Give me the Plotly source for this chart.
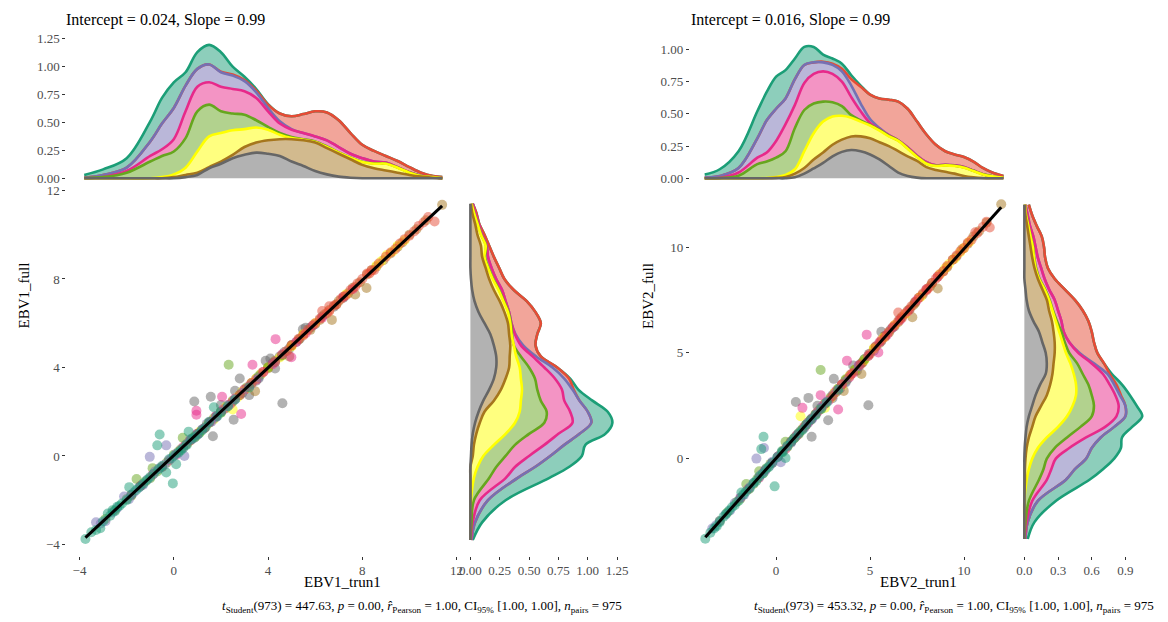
import plotly.graph_objects as go
import numpy as np

FONT = "Liberation Serif"
W, H = 1168, 622

# ggplot level order (draw order of outlines); stacking bottom->top is reversed
GROUPS = ["teal", "orange", "purple", "pink", "green", "yellow", "brown", "gray"]
STACK = ["gray", "brown", "yellow", "green", "pink", "purple", "orange", "teal"]
LINE_COL = {"teal": "#1B9E77", "orange": "#E64B35", "purple": "#7570B3", "pink": "#E7298A",
            "green": "#66A61E", "yellow": "#FFFF00", "brown": "#A6761D", "gray": "#666666"}

# ---------------- Panel 1 : EBV1 ----------------
P1_TITLE = "Intercept = 0.024, Slope = 0.99"
P1_INTERCEPT, P1_SLOPE = 0.024, 0.99
P1_XLAB, P1_YLAB = "EBV1_trun1", "EBV1_full"
P1_CAPTION = ("<i>t</i><sub>Student</sub>(973) = 447.63, <i>p</i> = 0.00, "
              "<i>r\u0302</i><sub>Pearson</sub> = 1.00, CI<sub>95%</sub> [1.00, 1.00], "
              "<i>n</i><sub>pairs</sub> = 975")
P1_TICKS = [-4, 0, 4, 8, 12]

p1_points = {
    "teal": [(-3.75, -3.75), (-3.12, -3.27), (-2.8, -2.6), (-2.6, -2.45), (-2.4, -2.3), (-2.2, -2.15),
             (-1.89, -1.41), (-1.6, -1.55), (-1.3, -1.25), (-1.0, -0.95), (-0.7, 0.48), (-0.6, 0.97),
             (-0.5, -0.45), (-0.32, -0.75), (-0.04, -1.24), (0.1, -0.37), (0.2, 0.15), (0.4, 0.35),
             (0.63, 1.1), (0.9, 0.85), (1.2, 1.15), (1.5, 1.55), (1.7, 2.2), (2.0, 1.95), (2.6, 2.55),
             (3.2, 3.1), (-3.5, -3.45), (-3.3, -3.35), (-3.0, -2.95), (-2.7, -2.7), (-2.5, -2.5),
             (-2.3, -2.25), (-2.0, -2.0), (-1.8, -1.75), (-1.45, -1.4), (-1.15, -1.1), (-0.85, -0.8),
             (-0.65, -0.6), (-0.2, -0.15), (0.0, 0.0), (0.3, 0.25), (0.55, 0.5), (0.75, 0.75),
             (1.05, 1.0), (1.35, 1.3), (1.85, 1.8), (2.3, 2.25)],
    "purple": [(-3.3, -3.0), (-2.9, -2.95), (-2.11, -1.83), (-1.9, -1.95), (-1.5, -1.45), (-1.02, -0.04),
               (-0.8, -0.7), (-0.32, 0.48), (-0.1, -0.1), (0.45, 0.0), (0.7, 0.75), (1.0, 0.95),
               (1.4, 1.45), (1.8, 1.75), (2.3, 2.25), (2.9, 2.85), (3.6, 3.55), (4.3, 4.25),
               (-3.1, -3.05), (-2.6, -2.55), (-2.4, -2.35), (-1.7, -1.65), (-1.3, -1.3), (-1.1, -1.05),
               (-0.6, -0.55), (-0.4, -0.4), (0.1, 0.1), (0.3, 0.3), (0.55, 0.55), (0.85, 0.8),
               (1.2, 1.2), (1.6, 1.55), (2.0, 2.0), (2.6, 2.55), (3.3, 3.25)],
    "pink": [(-1.8, -1.75), (-0.9, -0.85), (-0.2, -0.2), (0.4, 0.4), (0.96, 2.04), (0.96, 1.86),
             (1.3, 1.25), (1.8, 1.8), (2.05, 2.68), (2.4, 2.35), (2.86, 1.9), (3.0, 3.0), (3.34, 4.12),
             (3.5, 3.45), (4.32, 5.28), (4.99, 4.46), (5.6, 5.55), (6.3, 6.25), (7.2, 7.2), (8.3, 8.25),
             (-1.4, -1.35), (-0.5, -0.5), (0.1, 0.05), (0.7, 0.7), (1.0, 1.0), (1.55, 1.55), (2.1, 2.1),
             (2.6, 2.6), (3.2, 3.15), (3.8, 3.8), (4.2, 4.15), (4.6, 4.6), (5.2, 5.15), (5.9, 5.9),
             (6.6, 6.55), (7.6, 7.55)],
    "green": [(-2.9, -2.85), (-2.0, -1.95), (-1.58, -1.04), (-1.2, -1.15), (-0.9, -0.55), (-0.5, -0.5),
              (0.0, 0.05), (0.38, 0.82), (0.7, 0.7), (1.1, 1.05), (1.5, 1.5), (2.33, 4.12), (2.0, 2.0),
              (2.8, 2.75), (3.6, 3.6), (4.6, 4.55), (-2.5, -2.45), (-1.8, -1.8), (-1.4, -1.35),
              (-1.0, -1.0), (-0.7, -0.7), (-0.3, -0.3), (0.2, 0.2), (0.5, 0.5), (0.9, 0.9), (1.3, 1.25),
              (1.7, 1.7), (2.2, 2.15), (2.5, 2.45), (3.1, 3.1), (4.0, 4.0)],
    "yellow": [(0.3, 0.3), (0.9, 0.85), (1.4, 1.4), (2.0, 1.95), (2.5, 2.1), (2.7, 2.65), (3.1, 3.05),
               (3.7, 3.7), (4.5, 4.45), (5.5, 5.5), (6.6, 6.55), (8.6, 8.6), (9.04, 9.08), (9.3, 9.25),
               (0.6, 0.6), (1.1, 1.1), (1.7, 1.65), (2.2, 2.2), (2.9, 2.9), (3.3, 3.3), (3.5, 3.5),
               (4.0, 4.0), (5.0, 4.95), (6.0, 6.0), (7.3, 7.3), (8.3, 8.25), (8.8, 8.8), (9.5, 9.5),
               (9.8, 9.75)],
    "brown": [(0.8, 0.8), (2.0, 2.0), (3.0, 3.0), (3.45, 2.93), (4.0, 3.95), (4.6, 4.55), (4.9, 4.5),
              (5.3, 5.25), (5.8, 5.7), (6.2, 6.15), (6.71, 6.15), (7.0, 7.0), (7.4, 7.35), (7.7, 7.3),
              (8.18, 7.59), (8.6, 8.55), (9.2, 9.15), (9.7, 9.65), (10.3, 10.25), (11.39, 11.35),
              (1.5, 1.5), (2.5, 2.5), (3.5, 3.5), (4.3, 4.3), (5.0, 5.0), (5.5, 5.5), (5.9, 5.9),
              (6.4, 6.4), (6.6, 6.6), (6.9, 6.85), (7.2, 7.2), (7.6, 7.6), (7.9, 7.85), (8.2, 8.2),
              (8.4, 8.4), (8.9, 8.85), (9.5, 9.45), (10.0, 10.0), (10.7, 10.65)],
    "gray": [(0.87, 2.46), (1.2, 1.2), (1.57, 2.68), (1.66, 0.89), (2.0, 2.3), (2.54, 1.64), (2.8, 3.5),
             (2.6, 2.95), (3.2, 2.75), (3.6, 3.5), (3.9, 4.3), (4.1, 4.4), (4.3, 3.95), (4.61, 2.38),
             (4.9, 4.85), (5.2, 5.15), (5.48, 5.73), (5.6, 5.8), (6.0, 5.95), (6.8, 6.75),
             (1.0, 1.0), (1.8, 1.8), (2.3, 2.3), (2.9, 2.85), (3.3, 3.3), (3.5, 3.4), (3.7, 3.7),
             (4.0, 4.0), (4.2, 4.2), (4.5, 4.5), (4.7, 4.7), (5.0, 5.0), (5.35, 5.3), (5.8, 5.8),
             (6.3, 6.3), (7.2, 7.15)],
    "orange": [(2.8, 2.75), (3.8, 3.8), (4.8, 4.75), (5.5, 5.45), (6.0, 6.0), (6.3, 6.55), (6.6, 6.77),
               (6.9, 6.85), (7.3, 7.25), (7.8, 7.8), (8.2, 8.25), (8.5, 8.4), (9.0, 9.0), (9.6, 9.6),
               (10.0, 9.95), (10.4, 10.4), (10.6, 10.55), (11.07, 10.6), (3.3, 3.3), (4.3, 4.25),
               (5.0, 5.0), (5.3, 5.3), (5.7, 5.7), (6.2, 6.2), (6.5, 6.45), (6.8, 6.8), (7.1, 7.1),
               (7.5, 7.5), (7.7, 7.65), (8.0, 8.0), (8.4, 8.4), (8.7, 8.7), (9.2, 9.2), (9.4, 9.35),
               (9.8, 9.8), (10.2, 10.15), (10.8, 10.8)],
}

p1_top_grid = [-3.8, -3, -2, -1, -0.5, 0, 0.5, 1, 1.5, 2, 2.5, 3, 3.5, 4, 4.5, 5, 5.5, 6, 6.5, 7,
               7.5, 8, 8.5, 9, 9.5, 10, 10.5, 11, 11.4]
p1_top_dens = {
    "gray":   [0, 0, 0, 0, 0, 0, 0.01, 0.03, 0.09, 0.13, 0.18, 0.21, 0.23, 0.22, 0.20, 0.15, 0.11, 0.065, 0.035, 0.015, 0.005, 0, 0, 0, 0, 0, 0, 0, 0],
    "brown":  [0, 0, 0, 0, 0, 0.01, 0.02, 0.02, 0.01, 0.02, 0.03, 0.07, 0.09, 0.12, 0.15, 0.20, 0.23, 0.255, 0.235, 0.205, 0.165, 0.12, 0.09, 0.07, 0.05, 0.03, 0.015, 0.005, 0],
    "yellow": [0, 0, 0, 0, 0.01, 0.025, 0.065, 0.19, 0.275, 0.255, 0.22, 0.16, 0.135, 0.095, 0.04, 0.01, 0.005, 0.005, 0.01, 0.01, 0.015, 0.025, 0.04, 0.06, 0.045, 0.02, 0.005, 0.005, 0],
    "green":  [0.002, 0.01, 0.05, 0.15, 0.19, 0.205, 0.265, 0.36, 0.285, 0.195, 0.15, 0.13, 0.065, 0.025, 0.015, 0.01, 0.005, 0.005, 0.005, 0.002, 0.002, 0.002, 0.002, 0.002, 0.002, 0.002, 0.001, 0, 0],
    "pink":   [0.001, 0.002, 0.015, 0.05, 0.06, 0.11, 0.24, 0.22, 0.2, 0.22, 0.22, 0.21, 0.2, 0.14, 0.085, 0.065, 0.055, 0.045, 0.055, 0.048, 0.033, 0.033, 0.018, 0.008, 0.003, 0.002, 0.001, 0, 0],
    "purple": [0.002, 0.018, 0.03, 0.13, 0.23, 0.28, 0.23, 0.16, 0.16, 0.13, 0.12, 0.09, 0.05, 0.03, 0.02, 0.005, 0, 0, 0, 0, 0, 0, 0, 0, 0, 0, 0, 0, 0],
    "orange": [0, 0, 0, 0, 0, 0, 0, 0, 0, 0.005, 0.01, 0.01, 0.015, 0.03, 0.07, 0.115, 0.17, 0.225, 0.25, 0.24, 0.185, 0.12, 0.095, 0.06, 0.055, 0.046, 0.028, 0.01, 0.012],
    "teal":   [0.025, 0.05, 0.085, 0.18, 0.23, 0.23, 0.12, 0.15, 0.175, 0.175, 0.07, 0.03, 0.015, 0.005, 0, 0, 0, 0, 0, 0, 0, 0, 0, 0, 0, 0, 0, 0, 0],
}

p1_right_grid = [-3.8, -3, -2, -1, -0.5, 0, 0.5, 1, 1.5, 2, 2.5, 3, 3.5, 4, 4.5, 5, 5.5, 6, 6.5, 7,
                 7.5, 8, 8.5, 9, 9.5, 10, 10.5, 11, 11.4]
p1_right_dens = {
    "gray":   [0, 0, 0, 0, 0, 0.005, 0.01, 0.02, 0.04, 0.07, 0.11, 0.16, 0.2, 0.22, 0.22, 0.2, 0.17, 0.12, 0.07, 0.035, 0.015, 0.005, 0, 0, 0, 0, 0, 0, 0],
    "brown":  [0, 0, 0, 0, 0, 0.015, 0.02, 0.03, 0.04, 0.05, 0.09, 0.1, 0.1, 0.11, 0.115, 0.14, 0.16, 0.2, 0.22, 0.215, 0.185, 0.155, 0.13, 0.1, 0.09, 0.06, 0.04, 0.015, 0.005],
    "yellow": [0, 0, 0.005, 0.03, 0.06, 0.09, 0.17, 0.25, 0.3, 0.3, 0.23, 0.18, 0.13, 0.09, 0.055, 0.03, 0.02, 0.02, 0.03, 0.03, 0.04, 0.03, 0.02, 0.02, 0.04, 0.03, 0.02, 0.015, 0.005],
    "green":  [0, 0.01, 0.025, 0.13, 0.16, 0.19, 0.18, 0.2, 0.25, 0.23, 0.17, 0.13, 0.12, 0.08, 0.04, 0, 0.005, 0.005, 0.005, 0.005, 0.005, 0.005, 0.005, 0.005, 0.003, 0.002, 0.002, 0.001, 0],
    "pink":   [0.005, 0.01, 0.05, 0.14, 0.16, 0.2, 0.25, 0.25, 0.24, 0.2, 0.2, 0.21, 0.17, 0.13, 0.1, 0.06, 0.025, 0.005, 0.005, 0.015, 0.025, 0.025, 0.025, 0.025, 0.007, 0.008, 0.008, 0.009, 0.01],
    "purple": [0.005, 0.02, 0.07, 0.1, 0.17, 0.18, 0.17, 0.18, 0.16, 0.15, 0.13, 0.09, 0.08, 0.07, 0.03, 0.02, 0.005, 0, 0, 0, 0, 0, 0, 0, 0, 0, 0, 0, 0],
    "orange": [0, 0, 0, 0, 0, 0, 0, 0, 0, 0, 0, 0.01, 0.04, 0.04, 0.04, 0.105, 0.185, 0.25, 0.225, 0.18, 0.1, 0.07, 0.065, 0.05, 0.02, 0.02, 0.005, 0.01, 0],
    "teal":   [0.01, 0.06, 0.15, 0.27, 0.29, 0.27, 0.18, 0.22, 0.18, 0.17, 0.11, 0.04, 0.01, 0, 0, 0, 0, 0, 0, 0, 0, 0, 0, 0, 0, 0, 0, 0, 0],
}

# ---------------- Panel 2 : EBV2 ----------------
P2_TITLE = "Intercept = 0.016, Slope = 0.99"
P2_INTERCEPT, P2_SLOPE = 0.016, 0.99
P2_XLAB, P2_YLAB = "EBV2_trun1", "EBV2_full"
P2_CAPTION = ("<i>t</i><sub>Student</sub>(973) = 453.32, <i>p</i> = 0.00, "
              "<i>r\u0302</i><sub>Pearson</sub> = 1.00, CI<sub>95%</sub> [1.00, 1.00], "
              "<i>n</i><sub>pairs</sub> = 975")
P2_TICKS = [0, 5, 10]

p2_points = {
    "teal": [(-3.77, -3.79), (-3.16, -3.2), (-2.8, -2.75), (-2.5, -2.45), (-2.2, -2.2), (-1.85, -1.6),
             (-1.6, -1.55), (-1.2, -1.15), (-0.9, -0.85), (-0.79, 0.45), (-0.67, 1.03), (-0.4, -0.4),
             (-0.08, -1.31), (0.5, 0.03), (0.3, 0.35), (0.8, 0.8), (1.2, 1.2), (1.6, 1.6), (2.1, 2.05),
             (2.7, 2.65), (3.3, 3.25), (-3.5, -3.5), (-3.3, -3.3), (-3.0, -3.0), (-2.65, -2.6),
             (-2.35, -2.3), (-2.0, -2.0), (-1.75, -1.7), (-1.4, -1.4), (-1.05, -1.05), (-0.7, -0.7),
             (-0.55, -0.5), (-0.2, -0.2), (0.05, 0.05), (0.35, 0.3), (0.6, 0.6), (0.95, 0.95),
             (1.4, 1.35), (1.85, 1.85), (2.4, 2.35)],
    "purple": [(-3.4, -3.3), (-3.0, -2.95), (-2.2, -2.1), (-1.7, -1.7), (-1.05, 0.0), (-0.65, 0.5),
               (-0.8, -0.75), (-0.2, -0.15), (0.25, -0.17), (0.6, 0.6), (1.0, 1.0), (1.5, 1.45),
               (1.9, 1.85), (2.4, 2.4), (3.0, 3.0), (3.7, 3.65), (4.4, 4.35), (-3.2, -3.15),
               (-2.7, -2.65), (-2.45, -2.45), (-1.9, -1.85), (-1.4, -1.35), (-1.2, -1.15), (-0.6, -0.6),
               (-0.35, -0.35), (0.1, 0.1), (0.35, 0.35), (0.8, 0.75), (1.2, 1.2), (1.7, 1.7),
               (2.1, 2.1), (2.7, 2.7), (3.4, 3.35)],
    "pink": [(-1.9, -1.85), (-0.9, -0.9), (-0.2, -0.2), (0.5, 0.45), (1.4, 2.4), (1.5, 1.5), (1.9, 1.9),
             (2.37, 3.0), (2.5, 2.5), (3.3, 2.32), (3.2, 3.2), (3.77, 4.63), (3.9, 3.85), (4.82, 5.86),
             (5.44, 5.02), (5.9, 5.85), (6.6, 6.55), (7.5, 7.5), (8.6, 8.6), (-1.5, -1.45),
             (-0.6, -0.55), (0.1, 0.1), (0.8, 0.8), (1.1, 1.1), (1.7, 1.7), (2.2, 2.2), (2.8, 2.75),
             (3.5, 3.5), (4.1, 4.05), (4.4, 4.4), (4.9, 4.85), (5.5, 5.5), (6.2, 6.2), (7.0, 6.95),
             (8.0, 8.0)],
    "green": [(-3.0, -2.95), (-2.1, -2.05), (-1.59, -1.2), (-1.2, -1.2), (-0.9, -0.6), (-0.5, -0.45),
              (0.1, 0.1), (0.5, 0.8), (0.8, 0.8), (1.2, 1.15), (1.6, 1.6), (2.37, 4.19), (2.1, 2.1),
              (2.9, 2.9), (3.7, 3.75), (4.7, 4.7), (-2.6, -2.55), (-1.9, -1.9), (-1.45, -1.45),
              (-1.0, -0.95), (-0.7, -0.7), (-0.3, -0.25), (0.3, 0.3), (0.6, 0.55), (1.0, 1.0),
              (1.4, 1.4), (1.8, 1.8), (2.3, 2.3), (2.6, 2.6), (3.3, 3.3), (4.2, 4.2)],
    "yellow": [(0.4, 0.4), (1.0, 1.0), (1.3, 2.0), (1.5, 1.5), (2.1, 2.1), (2.6, 2.4), (2.9, 2.85),
               (3.3, 3.3), (3.9, 3.9), (4.7, 4.65), (5.7, 5.7), (6.9, 6.85), (9.0, 9.0), (9.5, 9.45),
               (9.8, 9.75), (0.7, 0.7), (1.2, 1.2), (1.8, 1.8), (2.4, 2.35), (3.1, 3.1), (3.5, 3.45),
               (3.7, 3.7), (4.2, 4.2), (5.2, 5.2), (6.3, 6.3), (7.7, 7.65), (8.7, 8.7), (9.2, 9.2),
               (10.0, 9.95), (10.3, 10.25)],
    "brown": [(0.9, 0.9), (2.1, 2.1), (3.1, 3.1), (3.6, 3.2), (4.54, 4.0), (4.2, 4.15), (4.9, 4.85),
              (5.5, 5.45), (6.0, 5.95), (6.5, 6.45), (7.25, 6.68), (7.4, 7.35), (7.8, 7.75), (8.2, 8.15),
              (8.6, 8.04), (9.1, 9.05), (9.6, 9.55), (10.2, 10.15), (10.8, 10.75), (11.98, 12.02),
              (1.6, 1.6), (2.6, 2.6), (3.7, 3.7), (4.6, 4.55), (5.2, 5.2), (5.8, 5.8), (6.2, 6.2),
              (6.7, 6.7), (7.0, 7.0), (7.3, 7.25), (7.6, 7.6), (8.0, 8.0), (8.3, 8.3), (8.6, 8.6),
              (8.9, 8.85), (9.4, 9.4), (9.9, 9.9), (10.5, 10.5), (11.2, 11.15)],
    "gray": [(1.05, 2.68), (1.3, 1.3), (1.72, 2.87), (1.89, 1.03), (2.77, 1.81), (2.2, 2.5), (3.07, 3.77),
             (3.0, 2.85), (3.4, 3.3), (3.8, 3.75), (4.1, 4.4), (4.3, 4.15), (4.6, 4.55), (4.91, 2.52),
             (5.2, 5.1), (5.6, 6.0), (5.8, 5.8), (6.3, 6.25), (7.1, 7.05), (1.1, 1.1), (1.9, 1.9),
             (2.4, 2.4), (3.2, 3.15), (3.5, 3.5), (3.7, 3.6), (3.95, 3.95), (4.2, 4.2), (4.45, 4.45),
             (4.7, 4.7), (4.95, 4.95), (5.3, 5.3), (5.6, 5.55), (6.1, 6.1), (6.6, 6.6), (7.4, 7.4)],
    "orange": [(3.0, 2.95), (4.0, 4.0), (5.0, 4.95), (5.8, 5.75), (6.3, 6.3), (6.5, 6.9), (6.7, 6.65),
               (7.1, 7.05), (7.6, 7.6), (8.1, 8.05), (8.5, 8.5), (8.9, 8.85), (9.4, 9.4), (10.0, 9.95),
               (10.4, 10.35), (10.6, 10.7), (11.0, 10.95), (11.37, 10.92), (3.5, 3.5), (4.5, 4.45),
               (5.3, 5.3), (5.6, 5.6), (6.0, 6.0), (6.5, 6.5), (6.85, 6.85), (7.2, 7.2), (7.4, 7.4),
               (7.8, 7.8), (8.0, 7.95), (8.3, 8.3), (8.7, 8.7), (9.1, 9.1), (9.6, 9.6), (9.8, 9.8),
               (10.2, 10.2), (10.7, 10.65), (11.2, 11.2)],
}

p2_top_grid = [-3.8, -3, -2, -1, -0.5, 0, 0.5, 1, 1.5, 2, 2.5, 3, 3.5, 4, 4.5, 5, 5.5, 6, 6.5, 7,
               7.5, 8, 8.5, 9, 9.5, 10, 10.5, 11, 11.5, 12.1]
p2_top_dens = {
    "gray":   [0, 0, 0, 0, 0, 0, 0, 0.008, 0.036, 0.077, 0.12, 0.17, 0.205, 0.22, 0.21, 0.185, 0.146, 0.095, 0.044, 0.018, 0.005, 0, 0, 0, 0, 0, 0, 0, 0, 0],
    "brown":  [0, 0, 0, 0, 0, 0.003, 0.01, 0.028, 0.044, 0.069, 0.08, 0.09, 0.095, 0.105, 0.115, 0.125, 0.134, 0.155, 0.166, 0.152, 0.13, 0.087, 0.064, 0.05, 0.036, 0.018, 0.008, 0.002, 0, 0],
    "yellow": [0, 0, 0, 0, 0.002, 0.007, 0.015, 0.034, 0.13, 0.204, 0.24, 0.22, 0.185, 0.145, 0.115, 0.1, 0.09, 0.075, 0.08, 0.06, 0.03, 0.026, 0.031, 0.05, 0.059, 0.064, 0.048, 0.028, 0.015, 0.004],
    "green":  [0, 0.002, 0.02, 0.11, 0.128, 0.15, 0.185, 0.32, 0.32, 0.23, 0.155, 0.11, 0.075, 0.02, 0.01, 0.005, 0.005, 0.005, 0.003, 0.003, 0.003, 0.002, 0.002, 0.002, 0.002, 0.002, 0.002, 0.001, 0.001, 0],
    "pink":   [0, 0.001, 0.025, 0.05, 0.07, 0.13, 0.21, 0.18, 0.21, 0.23, 0.235, 0.22, 0.19, 0.14, 0.07, 0.015, 0.005, 0.005, 0.002, 0.007, 0.007, 0.01, 0.003, 0.003, 0.003, 0.003, 0.002, 0.001, 0, 0],
    "purple": [0.005, 0.015, 0.035, 0.15, 0.25, 0.25, 0.2, 0.2, 0.14, 0.09, 0.07, 0.07, 0.08, 0.09, 0.06, 0.03, 0.01, 0, 0, 0, 0, 0, 0, 0, 0, 0, 0, 0, 0, 0],
    "orange": [0, 0, 0, 0, 0, 0, 0, 0, 0, 0, 0.005, 0.01, 0.02, 0.05, 0.13, 0.19, 0.23, 0.275, 0.3, 0.3, 0.265, 0.215, 0.16, 0.105, 0.085, 0.078, 0.07, 0.048, 0.029, 0.014],
    "teal":   [0.025, 0.052, 0.13, 0.21, 0.22, 0.25, 0.22, 0.16, 0.14, 0.12, 0.055, 0.04, 0.04, 0.03, 0.01, 0, 0, 0, 0, 0, 0, 0, 0, 0, 0, 0, 0, 0, 0, 0],
}

p2_right_grid = [-3.8, -3, -2, -1, -0.5, 0, 0.5, 1, 1.5, 2, 2.5, 3, 3.5, 4, 4.5, 5, 5.5, 6, 6.5, 7,
                 7.5, 8, 8.5, 9, 9.5, 10, 10.5, 11, 11.5, 12]
p2_right_dens = {
    "gray":   [0, 0, 0, 0, 0, 0, 0.003, 0.01, 0.02, 0.04, 0.07, 0.1, 0.14, 0.19, 0.2, 0.19, 0.16, 0.13, 0.08, 0.04, 0.02, 0.01, 0, 0, 0, 0, 0, 0, 0, 0],
    "brown":  [0, 0, 0, 0.005, 0.005, 0.01, 0.017, 0.03, 0.05, 0.06, 0.08, 0.1, 0.09, 0.06, 0.06, 0.08, 0.11, 0.13, 0.165, 0.18, 0.18, 0.15, 0.12, 0.09, 0.07, 0.055, 0.04, 0.025, 0.01, 0.003],
    "yellow": [0, 0, 0, 0.015, 0.035, 0.06, 0.1, 0.16, 0.23, 0.28, 0.28, 0.26, 0.23, 0.19, 0.15, 0.1, 0.07, 0.05, 0.035, 0.03, 0.02, 0.02, 0.01, 0.01, 0.015, 0.02, 0.015, 0.01, 0.005, 0.002],
    "green":  [0, 0.01, 0.04, 0.11, 0.13, 0.13, 0.15, 0.18, 0.2, 0.22, 0.19, 0.14, 0.11, 0.08, 0.06, 0.03, 0.02, 0.02, 0.01, 0.005, 0.005, 0.005, 0.005, 0.005, 0.003, 0.003, 0.002, 0.001, 0.001, 0],
    "pink":   [0.005, 0.01, 0.03, 0.07, 0.07, 0.08, 0.13, 0.17, 0.22, 0.22, 0.22, 0.21, 0.19, 0.18, 0.13, 0.08, 0.04, 0.02, 0.04, 0.045, 0.045, 0.035, 0.045, 0.045, 0.032, 0.022, 0.023, 0.014, 0.014, 0.005],
    "purple": [0.005, 0.01, 0.05, 0.17, 0.21, 0.27, 0.2, 0.13, 0.08, 0.08, 0.06, 0.04, 0.04, 0.04, 0.02, 0.01, 0, 0, 0, 0, 0, 0, 0, 0, 0, 0, 0, 0, 0, 0],
    "orange": [0, 0, 0, 0, 0, 0, 0, 0, 0, 0, 0, 0.01, 0.02, 0.02, 0.09, 0.16, 0.22, 0.25, 0.24, 0.22, 0.18, 0.14, 0.09, 0.06, 0.065, 0.075, 0.075, 0.06, 0.04, 0.03],
    "teal":   [0.02, 0.06, 0.16, 0.21, 0.25, 0.25, 0.26, 0.19, 0.16, 0.15, 0.1, 0.08, 0.05, 0.02, 0, 0, 0, 0, 0, 0, 0, 0, 0, 0, 0, 0, 0, 0, 0, 0],
}


def rgba(hexcol, a):
    h = hexcol.lstrip("#")
    return "rgba(%d,%d,%d,%.2f)" % (int(h[0:2], 16), int(h[2:4], 16), int(h[4:6], 16), a)


fig = go.Figure()


def add_scatter(points, intercept, slope, xa, ya):
    for g in STACK:
        pts = points[g]
        fig.add_trace(go.Scatter(x=[p[0] for p in pts], y=[p[1] for p in pts], mode="markers",
                                 marker=dict(size=10, color=rgba(LINE_COL[g], 0.5), line=dict(width=0)),
                                 xaxis=xa, yaxis=ya, showlegend=False, hoverinfo="skip"))
    allx = [p[0] for g in points for p in points[g]]
    lx = np.array([min(allx), max(allx)])
    fig.add_trace(go.Scatter(x=lx, y=intercept + slope * lx, mode="lines",
                             line=dict(color="black", width=3), xaxis=xa, yaxis=ya,
                             showlegend=False, hoverinfo="skip"))


def add_density(grid, dens, xa, ya, horizontal=False):
    grid = np.array(grid, dtype=float)
    cum = {}
    run = np.zeros(len(grid))
    for g in STACK:
        run = run + np.array(dens[g], dtype=float)
        cum[g] = run.copy()

    def xy(vals):
        return (vals, grid) if horizontal else (grid, vals)

    fill = "tonextx" if horizontal else "tonexty"
    bx, by = xy(np.zeros(len(grid)))
    fig.add_trace(go.Scatter(x=bx, y=by, mode="lines", line=dict(width=0), xaxis=xa, yaxis=ya,
                             showlegend=False, hoverinfo="skip"))
    for g in STACK:
        x, y = xy(cum[g])
        fig.add_trace(go.Scatter(x=x, y=y, mode="lines", fill=fill, fillcolor=rgba(LINE_COL[g], 0.5),
                                 line=dict(width=0, shape="spline", smoothing=1.0),
                                 xaxis=xa, yaxis=ya, showlegend=False, hoverinfo="skip"))
    for g in GROUPS:
        x, y = xy(cum[g])
        fig.add_trace(go.Scatter(x=x, y=y, mode="lines",
                                 line=dict(color=LINE_COL[g], width=2.6, shape="spline", smoothing=1.0),
                                 xaxis=xa, yaxis=ya, showlegend=False, hoverinfo="skip"))


add_scatter(p1_points, P1_INTERCEPT, P1_SLOPE, "x", "y")
add_density(p1_top_grid, p1_top_dens, "x2", "y2")
add_density(p1_right_grid, p1_right_dens, "x3", "y3", horizontal=True)
add_scatter(p2_points, P2_INTERCEPT, P2_SLOPE, "x4", "y4")
add_density(p2_top_grid, p2_top_dens, "x5", "y5")
add_density(p2_right_grid, p2_right_dens, "x6", "y6", horizontal=True)


def px_x(a, b):
    return [a / W, b / W]


def px_y(top, bottom):
    return [1 - bottom / H, 1 - top / H]


TICKFONT = dict(family=FONT, size=13, color="#4D4D4D")
base = dict(showgrid=False, zeroline=False, showline=False, ticks="outside", ticklen=3,
            tickwidth=1.2, tickcolor="#333333", tickfont=TICKFONT)
hidden = dict(showgrid=False, zeroline=False, showline=False, showticklabels=False, ticks="")

main_y = px_y(183, 556)
top_y = px_y(32, 181)

layout = dict(
    width=W, height=H, margin=dict(l=0, r=0, t=0, b=0),
    paper_bgcolor="white", plot_bgcolor="rgba(0,0,0,0)", showlegend=False,
    font=dict(family=FONT, color="black"),
    xaxis=dict(base, domain=px_x(63, 461), range=[-4.56, 12.16], tickvals=P1_TICKS, anchor="y"),
    yaxis=dict(base, domain=main_y, range=[-4.51, 12.16], tickvals=P1_TICKS, anchor="x"),
    xaxis2=dict(hidden, domain=px_x(63, 461), range=[-4.56, 12.16], anchor="y2"),
    yaxis2=dict(base, domain=top_y, range=[-0.06, 1.26], tickvals=[0, 0.25, 0.5, 0.75, 1.0, 1.25],
                tickformat=".2f", anchor="x2"),
    xaxis3=dict(base, domain=px_x(464, 623), range=[-0.061, 1.28],
                tickvals=[0, 0.25, 0.5, 0.75, 1.0, 1.25], tickformat=".2f", anchor="y3"),
    yaxis3=dict(hidden, domain=main_y, range=[-4.51, 12.16], anchor="x3"),
    xaxis4=dict(base, domain=px_x(693, 1022), range=[-4.59, 12.74], tickvals=P2_TICKS, anchor="y4"),
    yaxis4=dict(base, domain=main_y, range=[-4.59, 12.84], tickvals=P2_TICKS, anchor="x4"),
    xaxis5=dict(hidden, domain=px_x(693, 1022), range=[-4.59, 12.74], anchor="y5"),
    yaxis5=dict(base, domain=top_y, range=[-0.052, 1.092], tickvals=[0, 0.25, 0.5, 0.75, 1.0],
                tickformat=".2f", anchor="x5"),
    xaxis6=dict(base, domain=px_x(1025, 1156), range=[-0.0525, 1.1025], tickvals=[0, 0.3, 0.6, 0.9],
                tickformat=".1f", anchor="y6"),
    yaxis6=dict(hidden, domain=main_y, range=[-4.59, 12.84], anchor="x6"),
)
fig.update_layout(**layout)

ann = []
for title, tx, xlab, xc, ylab, yx, cap, capx in [
    (P1_TITLE, 61, P1_XLAB, 342, P1_YLAB, 20, P1_CAPTION, 626),
    (P2_TITLE, 692, P2_XLAB, 924, P2_YLAB, 650, P2_CAPTION, 1164),
]:
    ann.append(dict(text=title, x=tx / W, y=1 - 14 / H, xref="paper", yref="paper", xanchor="left",
                    yanchor="middle", showarrow=False, font=dict(family=FONT, size=16, color="black")))
    ann.append(dict(text=xlab, x=xc / W, y=1 - 583 / H, xref="paper", yref="paper", xanchor="center",
                    yanchor="middle", showarrow=False, font=dict(family=FONT, size=15, color="black")))
    ann.append(dict(text=ylab, x=yx / W, y=1 - 293 / H, xref="paper", yref="paper", xanchor="center",
                    yanchor="middle", textangle=-90, showarrow=False,
                    font=dict(family=FONT, size=15, color="black")))
    ann.append(dict(text=cap, x=capx / W, y=1 - 607 / H, xref="paper", yref="paper", xanchor="right",
                    yanchor="middle", showarrow=False, font=dict(family=FONT, size=13, color="black")))
fig.update_layout(annotations=ann)

fig.write_html("out.html")
